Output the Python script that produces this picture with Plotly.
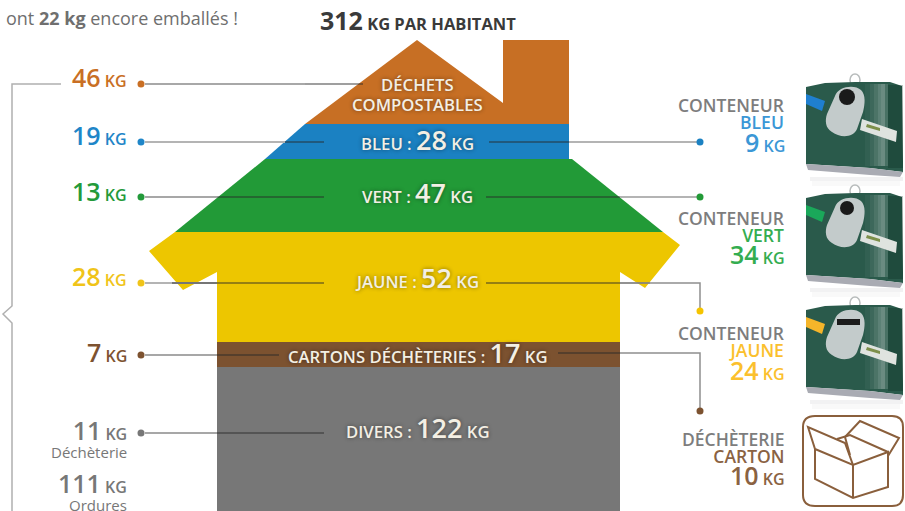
"""House infographic: household waste per inhabitant, by stream."""
import plotly.graph_objects as go

FONT = "Open Sans"
GREY_TXT = "#7a7a7a"

# values (kg per inhabitant)
total = 312
packaged = 22
stream_names = ["BLEU", "VERT", "JAUNE", "CARTONS DÉCHÈTERIES", "DIVERS"]
stream_values = [28, 47, 52, 17, 122]
left_values = [46, 19, 13, 28, 7, 11, 111]
left_notes = ["", "", "", "", "", "Déchèterie", "Ordures"]
left_colors = ["#c96f24", "#1f86c8", "#239a3a", "#f0c419", "#7d5230", "#777777", "#777777"]
right_heads = ["CONTENEUR", "CONTENEUR", "CONTENEUR", "DÉCHÈTERIE"]
right_names = ["BLEU", "VERT", "JAUNE", "CARTON"]
right_values = [9, 34, 24, 10]
right_colors = ["#3b97d6", "#34ad50", "#fbc02d", "#8a6242"]

# house outline, band by band (drawn in page pixels)
bands = [
    ("compost", "#c76f24", [(417, 40), (503, 103), (503, 40), (569, 40), (569, 124), (305, 124)]),
    ("bleu", "#1b81c2", [(305, 124), (569, 124), (569, 159), (265, 159)]),
    ("vert", "#229a37", [(265, 159), (572, 159), (663, 232), (175, 232)]),
    ("jaune", "#edc600", [(175, 232), (663, 232), (680, 245), (645, 288), (620, 272), (620, 342),
                          (217, 342), (217, 272), (183, 290), (149, 251)]),
    ("cartons", "#7c5230", [(217, 342), (620, 342), (620, 367), (217, 367)]),
    ("divers", "#777777", [(217, 367), (620, 367), (620, 511), (217, 511)]),
]

fig = go.Figure()
for name, color, pts in bands:
    fig.add_trace(go.Scatter(x=[p[0] for p in pts] + [pts[0][0]], y=[p[1] for p in pts] + [pts[0][1]],
                             mode="lines", fill="toself", fillcolor=color, line=dict(width=0), name=name))


def seg(xs, ys, color="#b4b4b4", width=2):
    fig.add_trace(go.Scatter(x=xs, y=ys, mode="lines", line=dict(color=color, width=width)))


INNER = "rgba(40,40,40,0.6)"
# bracket on the left
seg([61, 12, 12, 3, 12, 12], [84, 84, 306, 314, 323, 511], "#b0b0b0", 1.5)
# leader lines, left side
seg([145, 305], [84, 84], "#a8a8a8")
seg([305, 363], [84, 84], INNER, 1.5)
seg([145, 285], [142, 142])
seg([285, 324], [142, 142], INNER, 1.5)
seg([145, 217], [197, 197], "#8a8a8a", 1.5)
seg([217, 324], [197, 197], INNER, 1.5)
seg([145, 217], [283, 283])
seg([172, 324], [283, 283], INNER, 1.5)
seg([145, 217], [355, 355], "#8a8a8a", 1.5)
seg([217, 279], [355, 355], INNER, 1.5)
seg([145, 217], [433, 433], "#8a8a8a", 1.5)
seg([217, 324], [433, 433], INNER, 1.5)
# leader lines, right side
seg([489, 569], [142, 142], INNER, 1.5)
seg([569, 700], [142, 142])
seg([486, 620], [197, 197], INNER, 1.5)
seg([620, 700], [197, 197])
seg([486, 650], [283, 283], INNER, 1.5)
seg([620, 700, 700], [283, 283, 311], "#8f8f8f", 1.5)
seg([558, 620], [353, 353], INNER, 1.5)
seg([620, 700, 700], [353, 353, 411], "#8f8f8f", 1.5)

fig.add_trace(go.Scatter(x=[141] * 6, y=[84, 142, 197, 283, 355, 433],
                         mode="markers", marker=dict(size=7, color=left_colors[:5] + ["#777777"])))
fig.add_trace(go.Scatter(x=[700] * 4, y=[142, 197, 311, 411], mode="markers",
                         marker=dict(size=7, color=["#1b81c2", "#229a37", "#f5c400", "#7c5230"])))

shapes = []


def rect(x0, y0, x1, y1, color):
    shapes.append(dict(type="rect", x0=x0, y0=y0, x1=x1, y1=y1, fillcolor=color, line_width=0, layer="below"))


def poly(pts, color, close=True, line=None, width=0):
    path = "M" + " L".join(f"{x},{y}" for x, y in pts) + (" Z" if close else "")
    shapes.append(dict(type="path", path=path, fillcolor=color if close else "rgba(0,0,0,0)",
                       line=dict(color=line or color, width=width), layer="below"))


def bin_icon(y, tab, slot=False, hole=8):
    # soft shadow below
    rect(810, y + 95, 903, y + 99, "rgba(150,150,155,0.12)")
    rect(812, y + 99, 900, y + 104, "rgba(150,150,155,0.06)")
    # lifting ring, behind the body
    shapes.append(dict(type="circle", x0=850, y0=y - 8, x1=860, y1=y + 4, fillcolor="rgba(0,0,0,0)",
                       line=dict(color="#b8bcbc", width=1.5), layer="below"))
    # body, top edge slightly domed
    poly([(806, y + 5), (825, y + 1), (855, y), (890, y), (902, y + 4), (903, y + 80), (903, y + 90),
          (870, y + 86), (806, y + 82)], "#2a5a4b")
    # shine near the right side
    for x0, x1, c in [(865, 870, 0.04), (870, 874, 0.09), (874, 878, 0.16), (878, 881, 0.24),
                      (881, 885, 0.3), (885, 888, 0.14)]:
        rect(x0, y + 2, x1, y + 84, f"rgba(255,255,255,{c})")
    rect(888, y + 3, 903, y + 86, "rgba(0,30,20,0.25)")
    # grey foot
    poly([(806, y + 82), (870, y + 86), (903, y + 90), (900, y + 95), (870, y + 93), (808, y + 88)], "#a9abb3")
    # colour tab
    poly([(806, y + 12), (825, y + 19), (822, y + 29), (806, y + 22)], tab)
    # grey pod, tilted
    shapes.append(dict(type="path", fillcolor="#c3cbcb", line_width=0, layer="below",
                       path=f"M835,{y+14} C838,{y+4} 855,{y+2} 861,{y+8} C866,{y+13} 865,{y+22} 863,{y+30} "
                            f"L857,{y+47} C853,{y+56} 840,{y+56} 832,{y+50} C825,{y+46} 825,{y+38} 827,{y+32} Z"))
    if slot:
        rect(837, y + 14, 860, y + 20, "#1b1b1b")
    else:
        shapes.append(dict(type="circle", x0=847 - hole, y0=y + 15 - hole, x1=847 + hole, y1=y + 15 + hole,
                           fillcolor="#1a1a1a", line_width=0, layer="below"))
    # sticker
    poly([(862, y + 37), (897, y + 49), (896, y + 60), (860, y + 48)], "#dfe3df")
    poly([(867, y + 42), (880, y + 46), (880, y + 49), (866, y + 45)], "#7d8f4a")


bin_icon(82, "#1f7fcf")
bin_icon(193, "#1aa85a", hole=7)
bin_icon(305, "#f5b52a", slot=True)

# cardboard box icon
BR = "#8a5f3c"
shapes.append(dict(type="path", line=dict(color=BR, width=2), fillcolor="rgba(0,0,0,0)", layer="below",
                   path="M815,416 L892,416 Q903,416 903,427 L903,495 Q903,506 892,506 L815,506 "
                        "Q803,506 803,495 L803,427 Q803,416 815,416 Z"))
for pts in [
    [(815,449), (853,465), (888,452), (888,487), (853,498), (815,479), (815,449)],
    [(853,465), (853,498)],
    [(815,449), (808,427), (845,443), (853,465)],
    [(845,437), (860,421), (899,438), (888,456)],
    [(845,437), (850,455)],
    [(837,439), (850,435), (888,452)],
]:
    poly(pts, "#000", close=False, line=BR, width=2)


def note(x, y, text, size=14, color=GREY_TXT, anchor="right", shadow=None):
    font = dict(family=FONT, size=size, color=color)
    if shadow:
        font["shadow"] = shadow
    fig.add_annotation(x=x, y=y, text=text, showarrow=False, xanchor=anchor, yanchor="middle",
                       xref="x", yref="y", font=font, align="right" if anchor == "right" else "center")


def big(v, num=25, unit=16):
    return (f'<span style="font-size:{num}px;font-weight:600">{v}</span>'
            f'<span style="font-size:{unit}px;font-weight:600"> KG</span>')


# page heading bits
note(240, 18, f'ont <b>{packaged} kg</b> encore emballés !', 18, "#6f6f6f")
note(518, 20, f'<b><span style="font-size:25px">{total}</span> KG PAR HABITANT</b>', 16.5, "#3a3a3a")

# left column
ys = [77, 135, 191, 276, 352]
for v, y, c in zip(left_values[:5], ys, left_colors):
    note(129, y, big(v), 14, c)
# two-line rows: small note under the figure
for v, n, y, c in zip(left_values[5:], left_notes[5:], [437, 490], left_colors[5:]):
    note(129, y, big(v) + f'<br><span style="font-size:15px">{n}</span>', 14, c)

# labels inside the house
SH = "0px 0px 4px rgba(0,0,0,0.45)"
CREAM = "#f3efe4"
note(417, 94, '<span style="font-size:16.7px;font-weight:600">DÉCHETS<br>COMPOSTABLES</span>', 15.4, CREAM, "center", SH)
label_pos = [(417, 139), (417, 192), (417, 277), (418, 352), (418, 427)]
for n, v, (x, y) in zip(stream_names, stream_values, label_pos):
    note(x, y, f'<span style="font-weight:600">{n} : <span style="font-size:27px">{v}</span> KG</span>',
         16.7, CREAM, "center", SH)

# right column: heading and colour name as a pair, weight a little lower
head_y = [113, 226, 341, 447]
value_y = [142, 254, 370, 475]
for head, name, v, c, y0, y1 in zip(right_heads, right_names, right_values, right_colors, head_y, value_y):
    note(787, y0, f'<span style="font-size:17.5px;font-weight:600;fill:#7d7d7d">{head}</span><br>'
                  f'<span style="font-size:17.5px;font-weight:600">{name}</span>', 13.2, c)
    note(787, y1, big(v), 14, c)

fig.update_layout(
    width=905, height=511, margin=dict(l=0, r=0, t=0, b=0), showlegend=False,
    paper_bgcolor="white", plot_bgcolor="white", shapes=shapes,
    xaxis=dict(range=[0, 905], visible=False, fixedrange=True),
    yaxis=dict(range=[511, 0], visible=False, fixedrange=True),
)
# the page's default body margin would push the whole figure 8 px down and right
fig.write_html("out.html", config=dict(displayModeBar=False),
               post_script="document.body.style.margin='0';document.body.style.overflow='hidden';")
